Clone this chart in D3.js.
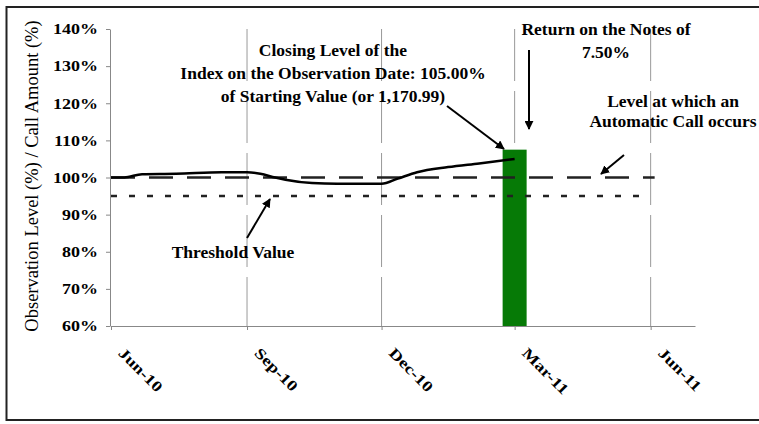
<!DOCTYPE html>
<html>
<head>
<meta charset="utf-8">
<script src="https://cdn.jsdelivr.net/npm/d3@7"></script>
<style>
  body { margin: 0; background: #fff; }
  text { font-family: "Liberation Serif", "Times New Roman", serif; fill: #000; }
  .ann { font-weight: bold; font-size: 17.5px; }
</style>
</head>
<body>
<svg width="759" height="424"></svg>
<script>

// Data
var tickDates = ["2010-06-01", "2010-09-01", "2010-12-01", "2011-03-01", "2011-06-01"];
var tickLabels = ["Jun-10", "Sep-10", "Dec-10", "Mar-11", "Jun-11"];
var yTicks = [60, 70, 80, 90, 100, 110, 120, 130, 140];

var indexDates = ["2010-06-01", "2010-06-10", "2010-06-22", "2010-07-15", "2010-08-15", "2010-09-01",
  "2010-09-10", "2010-09-20", "2010-09-27", "2010-10-15", "2010-11-01", "2010-12-01",
  "2010-12-12", "2010-12-25", "2011-01-15", "2011-02-05", "2011-03-01"];
var indexLevels = [100.0, 100.0, 100.9, 101.0, 101.4, 101.4,
  101.0, 100.0, 99.4, 98.5, 98.3, 98.3,
  99.7, 101.4, 102.8, 103.8, 105.0];

var callLevel = 100;      // level at which an automatic call occurs
var thresholdLevel = 95;  // threshold value
var callDate = "2011-03-01";
var callAmount = 107.5;   // return on the notes bar

var parse = d3.timeParse("%Y-%m-%d");

var svg = d3.select("svg");

// outer frame
svg.append("rect")
  .attr("x", 6.5).attr("y", 7)
  .attr("width", 800).attr("height", 413)
  .attr("fill", "none")
  .attr("stroke", "#222")
  .attr("stroke-width", 2);

// scales
var x = d3.scaleTime()
  .domain([parse("2010-06-01"), parse("2011-07-01")])
  .range([111, 695]);

var y = d3.scaleLinear()
  .domain([60, 140])
  .range([326, 29]);

// stretch text sideways, the source font is wider than Times
function widen(sel, f) {
  sel.each(function () {
    var l = this.getComputedTextLength();
    d3.select(this)
      .attr("textLength", l * f)
      .attr("lengthAdjust", "spacingAndGlyphs");
  });
}

// vertical grid lines
svg.append("g")
  .selectAll("line")
  .data(tickDates.slice(1))
  .enter().append("line")
  .attr("x1", function (d) { return x(parse(d)); })
  .attr("x2", function (d) { return x(parse(d)); })
  .attr("y1", y(140))
  .attr("y2", y(60))
  .attr("stroke", "#999")
  .attr("stroke-width", 1)
  .attr("stroke-dasharray", "52,10");

// call amount bar
svg.append("rect")
  .attr("x", x(parse(callDate)) - 12)
  .attr("width", 24)
  .attr("y", y(callAmount))
  .attr("height", y(60) - y(callAmount))
  .attr("fill", "#067a06");

// axes
var xAxis = svg.append("g")
  .attr("transform", "translate(0," + y(60) + ")")
  .call(d3.axisBottom(x)
    .tickValues(tickDates.map(parse))
    .tickFormat(function (d, i) { return tickLabels[i]; })
    .tickSize(4)
    .tickSizeOuter(0));

xAxis.selectAll("text")
  .attr("x", 0).attr("y", 0).attr("dy", 0)
  .attr("transform", "translate(6,28) rotate(45)")
  .style("text-anchor", "start")
  .style("font-size", "15px")
  .style("font-weight", "bold")
  .call(widen, 1.25);

var yAxis = svg.append("g")
  .attr("transform", "translate(110,0)")
  .call(d3.axisLeft(y)
    .tickValues(yTicks)
    .tickFormat(function (d) { return d + "%"; })
    .tickSize(4)
    .tickPadding(8)
    .tickSizeOuter(0));

yAxis.selectAll("text")
  .style("font-size", "15px")
  .style("font-weight", "bold")
  .call(widen, 1.2);

svg.selectAll(".domain, .tick line").attr("stroke", "#888");

// y axis title
svg.append("text")
  .attr("transform", "translate(38,176) rotate(-90)")
  .style("text-anchor", "middle")
  .style("font-size", "18.5px")
  .text("Observation Level (%) / Call Amount (%)");

// call level and threshold lines
svg.append("line")
  .attr("x1", x(parse(tickDates[0]))).attr("x2", x(parse(tickDates[4])) + 4)
  .attr("y1", y(callLevel)).attr("y2", y(callLevel))
  .attr("stroke", "#222")
  .attr("stroke-width", 2.5)
  .attr("stroke-dasharray", "24,14");

svg.append("line")
  .attr("x1", x(parse(tickDates[0]))).attr("x2", x(parse(tickDates[4])))
  .attr("y1", y(thresholdLevel)).attr("y2", y(thresholdLevel))
  .attr("stroke", "#222")
  .attr("stroke-width", 2.5)
  .attr("stroke-dasharray", "6,12");

// index line
var line = d3.line()
  .x(function (d, i) { return x(parse(indexDates[i])); })
  .y(function (d) { return y(d); })
  .curve(d3.curveMonotoneX);

svg.append("path")
  .datum(indexLevels)
  .attr("d", line)
  .attr("fill", "none")
  .attr("stroke", "#000")
  .attr("stroke-width", 2.5);

// arrow head
svg.append("defs").append("marker")
  .attr("id", "arrow")
  .attr("viewBox", "0 0 10 10")
  .attr("refX", 9).attr("refY", 5)
  .attr("markerWidth", 4.5).attr("markerHeight", 4.5)
  .attr("orient", "auto")
  .append("path")
  .attr("d", "M0,0L10,5L0,10Z")
  .attr("fill", "#000");

function arrow(x1, y1, x2, y2) {
  svg.append("line")
    .attr("x1", x1).attr("y1", y1)
    .attr("x2", x2).attr("y2", y2)
    .attr("stroke", "#000")
    .attr("stroke-width", 2)
    .attr("marker-end", "url(#arrow)");
}

function label(cx, cy, lines, gap) {
  var t = svg.append("text")
    .attr("class", "ann")
    .attr("x", cx).attr("y", cy)
    .style("text-anchor", "middle");
  lines.forEach(function (s, i) {
    t.append("tspan").attr("x", cx).attr("dy", i ? gap : 0).text(s);
  });
}

// annotations
label(333, 56, ["Closing Level of the", "Index on the Observation Date: 105.00%", "of Starting Value (or 1,170.99)"], 23);
arrow(447, 106, 504, 149);

label(606, 35, ["Return on the Notes of", "7.50%"], 23);
arrow(529, 50, 529, 129);

label(673, 107, ["Level at which an", "Automatic Call occurs"], 20);
arrow(624, 155, 601, 174);

label(233, 258, ["Threshold Value"], 0);
arrow(247, 238, 270, 199);

</script>
</body>
</html>
